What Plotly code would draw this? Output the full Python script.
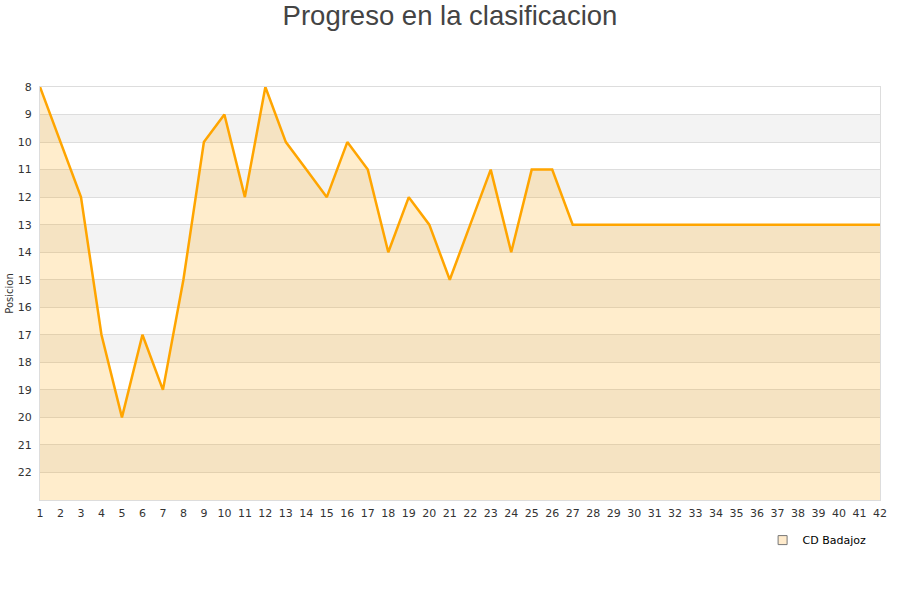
import plotly.graph_objects as go

jornadas = list(range(1, 43))
posiciones = [8, 10, 12, 17, 20, 17, 19, 15, 10, 9,
              12, 8, 10, 11, 12, 10, 11, 14, 12, 13,
              15, 13, 11, 14, 11, 11, 13, 13, 13, 13,
              13, 13, 13, 13, 13, 13, 13, 13, 13, 13,
              13, 13]
y_ticks = list(range(8, 23))
y_min, y_max = 8, 23
team = "CD Badajoz"

fig = go.Figure()

fig.add_trace(go.Scatter(x=jornadas, y=[y_max] * len(jornadas), mode="lines",
                         line=dict(width=0), showlegend=False, hoverinfo="skip"))
fig.add_trace(go.Scatter(x=jornadas, y=posiciones, mode="lines", name=team,
                         fill="tonexty", fillcolor="rgba(255,165,0,0.2)",
                         line=dict(color="#FFA500", width=2.5), showlegend=False))
fig.add_trace(go.Scatter(x=[None], y=[None], mode="markers", name=team,
                         marker=dict(symbol="square", size=9, color="#ffebcc",
                                     line=dict(color="#777", width=1))))

shapes = []
for k in range(9, 23, 2):
    shapes.append(dict(type="rect", xref="paper", yref="y", x0=0, x1=1, y0=k, y1=k + 1,
                       fillcolor="#f3f3f3", line=dict(width=0), layer="below"))

fig.update_layout(
    width=900, height=600,
    paper_bgcolor="white", plot_bgcolor="white",
    margin=dict(l=40, r=20, t=87, b=100, autoexpand=False),
    title=dict(text="Progreso en la clasificacion", x=0.5, xanchor="center", y=0.975, yanchor="middle",
               font=dict(family="Liberation Sans, Arial", size=27.5, color="#444")),
    font=dict(family="DejaVu Sans", size=11, color="#333"),
    shapes=shapes,
    showlegend=True,
    legend=dict(x=0.99, xanchor="right", y=-0.062, yanchor="top", orientation="h",
                font=dict(family="DejaVu Sans", size=11, color="#000"), bgcolor="rgba(0,0,0,0)"),
    xaxis=dict(range=[1, 42], tickmode="array", tickvals=jornadas, ticktext=[str(j) for j in jornadas],
               showgrid=False, zeroline=False, showline=True, linecolor="#ddd", mirror=True,
               ticks="", tickfont=dict(size=11, color="#333"), automargin=False,
               ticklabelstandoff=3),
    yaxis=dict(range=[y_max, y_min], tickmode="array", tickvals=y_ticks, ticktext=[str(t) for t in y_ticks],
               showgrid=True, gridcolor="#dddddd", zeroline=False, showline=True, linecolor="#ddd",
               mirror=True, ticks="", tickfont=dict(size=11, color="#333"), automargin=False,
               ticklabelstandoff=5,
               title=dict(text="Posicion", font=dict(size=10, color="#333"), standoff=2)),
)

fig.write_html("out.html", post_script="document.body.style.margin='0';",
               config={"displayModeBar": False})
